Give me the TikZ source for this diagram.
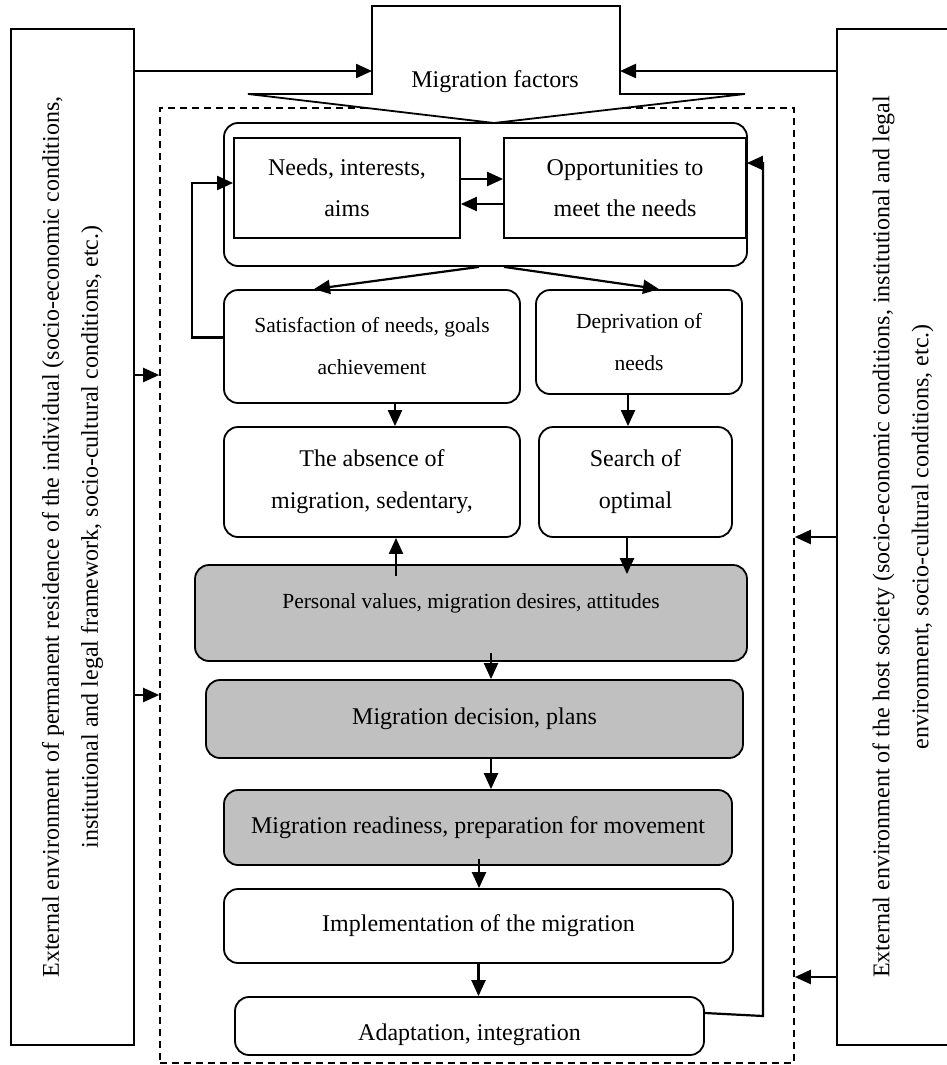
\documentclass[tikz,border=0pt]{standalone}
\usepackage{fontspec}
\setmainfont{Liberation Serif}
\usetikzlibrary{arrows.meta}
\definecolor{boxgray}{HTML}{C0C0C0}
\tikzset{
  box/.style={draw, line width=1.8pt, rounded corners=14pt, align=center, inner sep=0pt, fill=white, font=\fontsize{24}{42}\selectfont},
  sqbox/.style={draw, line width=1.8pt, align=center, inner sep=0pt, fill=white, font=\fontsize{24}{41}\selectfont},
  graybox/.style={box, fill=boxgray},
  smalltext/.style={font=\fontsize{21.5}{42}\selectfont},
  envbox/.style={draw, line width=1.8pt, rotate=90, align=center, inner sep=0pt, minimum width=1016pt, fill=white, font=\fontsize{24}{39}\selectfont},
  arr/.style={line width=2.2pt, -{Triangle[length=16pt,width=14pt]}}
}

\begin{document}
\begin{tikzpicture}[x=1pt,y=-1pt]
   % \draw[step=100,gray,very thin] (0,0) grid (946,1065);
   \useasboundingbox (0,0) rectangle (946,1065);
    \node[draw, dash pattern=on 7pt off 5pt, line width=1.6pt, minimum width=634pt, minimum height=955pt, inner sep=0pt] (frame) at (477,585.5) {};
    \node[envbox, minimum height=123pt] (leftenv) at (72.5,537) {External environment of permanent residence of the individual (socio-economic conditions,\\institutional and legal framework, socio-cultural conditions, etc.)};
    \node[envbox, minimum height=132pt] (rightenv) at (903,537) {External environment of the host society (socio-economic conditions, institutional and legal\\environment, socio-cultural conditions, etc.)};
    \node[box, minimum width=523pt, minimum height=143pt] (grp) at (485.5,194.5) {};
    \draw[line width=1.8pt, fill=white] (372,94) -- (372,6) -- (620,6) -- (620,94) -- (745,94) -- (494,123) -- (248,94) -- cycle;
    \node[font=\fontsize{24}{28}\selectfont] (mf) at (495,82) {Migration factors};
    \coordinate (mfl) at (372,71);
    \coordinate (mfr) at (620,71);
    \node[sqbox, minimum width=226pt, minimum height=100pt] (needs) at (347,188) {Needs, interests,\\aims};
    \node[sqbox, minimum width=242pt, minimum height=100pt] (opps) at (625,188) {Opportunities to\\meet the needs};
    \node[box, smalltext, minimum width=296pt, minimum height=113pt] (satisf) at (372,346.5) {Satisfaction of needs, goals\\achievement};
    \node[box, smalltext, minimum width=206pt, minimum height=104pt] (depriv) at (639,342) {Deprivation of\\needs};
    \node[box, minimum width=296pt, minimum height=110pt] (absence) at (372,482) {The absence of\\migration, sedentary,};
    \node[box, minimum width=193pt, minimum height=110pt] (search) at (635.5,482) {Search of\\optimal};
    \node[graybox, smalltext, minimum width=552pt, minimum height=96pt, text height=17pt, text depth=26pt] (values) at (471,613) {Personal values, migration desires, attitudes};
    \node[graybox, minimum width=537pt, minimum height=78pt] (decision) at (474.5,719) {Migration decision, plans};
    \node[graybox, minimum width=508pt, minimum height=75pt] (ready) at (478,827.5) {Migration readiness, preparation for movement};
    \node[box, minimum width=509pt, minimum height=74pt] (impl) at (478.5,926) {Implementation of the migration};
    \node[box, minimum width=469pt, minimum height=58pt, text height=28pt, text depth=0pt] (adapt) at (469.5,1026) {Adaptation, integration};
    \coordinate (lin1) at (0,375);
    \coordinate (lin2) at (0,695);
    \coordinate (rin1) at (0,537);
    \coordinate (rin2) at (0,977);
    % outside influences
    \draw[arr] (leftenv.south |- mfl) -- (mfl);
    \draw[arr] (rightenv.north |- mfr) -- (mfr);
    \draw[arr] (leftenv.south |- lin1) -- (frame.west |- lin1);
    \draw[arr] (leftenv.south |- lin2) -- (frame.west |- lin2);
    \draw[arr] (rightenv.north |- rin1) -- (frame.east |- rin1);
    \draw[arr] (rightenv.north |- rin2) -- (frame.east |- rin2);
    % inner links
    \draw[arr] ([yshift=9pt]needs.east) -- ([yshift=9pt]opps.west);
    \draw[arr] ([yshift=-16pt]opps.west) -- ([yshift=-16pt]needs.east);
    \draw[arr] ([xshift=-6.5pt]grp.south) -- ([xshift=-58pt]satisf.north);
    \draw[arr] ([xshift=18.5pt]grp.south) -- ([xshift=20pt]depriv.north);
    \draw[arr] ([xshift=23pt]satisf.south) -- ([xshift=23pt]absence.north);
    \draw[arr] ([xshift=-11pt]depriv.south) -- ([xshift=-7.5pt]search.north);
    \draw[arr] ([xshift=-75pt,yshift=-12pt]values.north) -- ([xshift=24pt]absence.south);
    \draw[arr] ([xshift=-8.5pt]search.south) -- ([xshift=156pt,yshift=-10pt]values.north);
    \draw[arr] ([xshift=20pt,yshift=9pt]values.south) -- ([xshift=16.5pt]decision.north);
    \draw[arr] ([xshift=16.5pt]decision.south) -- ([xshift=13pt]ready.north);
    \draw[arr] ([xshift=1pt,yshift=7pt]ready.south) -- ([xshift=0.5pt]impl.north);
    \draw[arr] (impl.south) -- (impl.south |- adapt.north);
    % feedback
    \draw[arr] ([yshift=9pt]satisf.west) -- ++(-31,0) |- ([yshift=5pt]needs.west);
    \draw[arr] ([yshift=13pt]adapt.east) -- ++(58,3) |- ([yshift=25pt]opps.east);
\end{tikzpicture}
\end{document}
